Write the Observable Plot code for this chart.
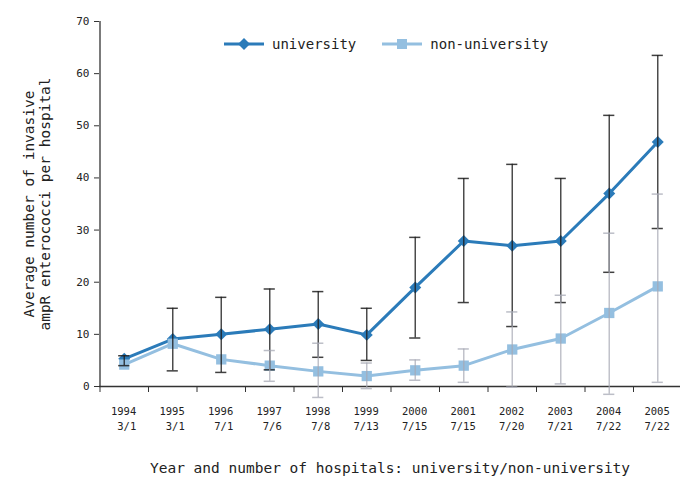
<!DOCTYPE html>
<html>
<head>
<meta charset="utf-8">
<script src="https://cdn.jsdelivr.net/npm/d3@7"></script>
<script src="https://cdn.jsdelivr.net/npm/@observablehq/plot@0.6"></script>
<style>
  body { margin: 0; background: #fff; }
  #wrap { position: relative; width: 680px; height: 478px; font-family: "DejaVu Sans Mono", monospace; color: #222; }
  #legend { position: absolute; top: 36px; left: 224px; display: flex; align-items: center; font-size: 14px; }
  .item { display: flex; align-items: center; }
  .item svg { margin-right: 7px; }
  .item + .item { margin-left: 26px; }
</style>
</head>
<body>
<div id="wrap"></div>
<script>
const years = [1994, 1995, 1996, 1997, 1998, 1999, 2000, 2001, 2002, 2003, 2004, 2005];
const hospitals = ["3/1", "3/1", "7/1", "7/6", "7/8", "7/13", "7/15", "7/15", "7/20", "7/21", "7/22", "7/22"];
const univMean = [5.3, 9.1, 10.0, 11.0, 12.0, 9.9, 19.0, 27.9, 27.0, 27.9, 37.0, 46.9];
const univLow  = [4.0, 3.0, 2.7, 3.2, 5.6, 5.0, 9.3, 16.1, 11.5, 16.1, 21.9, 30.3];
const univHigh = [5.9, 15.0, 17.1, 18.7, 18.2, 15.0, 28.6, 39.9, 42.6, 39.9, 52.0, 63.5];
const nonMean  = [4.2, 8.2, 5.2, 4.0, 2.9, 2.0, 3.1, 4.0, 7.1, 9.2, 14.1, 19.2];
const nonLow   = [null, null, null, 1.0, -2.1, -0.4, 1.2, 0.8, -0.1, 0.5, -1.5, 0.8];
const nonHigh  = [null, null, null, 6.9, 8.3, 4.5, 5.1, 7.2, 14.3, 17.5, 29.4, 36.9];
const yTicks = [0, 10, 20, 30, 40, 50, 60, 70];
const seriesNames = ["university", "non-university"];
const yTitle = "Average number of invasive\nampR enterococci per hospital";
const xTitle = "Year and number of hospitals: university/non-university";

const univColor = "#2b7bb9";
const nonColor = "#94bfe0";
const cap = 0.115;

const data = years.map((year, i) => ({
  year, hosp: hospitals[i],
  um: univMean[i], ul: univLow[i], uh: univHigh[i],
  nm: nonMean[i], nl: nonLow[i], nh: nonHigh[i]
}));
const nonBars = data.filter(d => d.nl != null);
const boundaries = years.map(y => y - 0.5);

const chart = Plot.plot({
  width: 680,
  height: 478,
  marginTop: 21,
  marginBottom: 92,
  marginLeft: 99,
  marginRight: 0,
  x: { type: "linear", domain: [1993.5, 2005.5], range: [99.5, 681.5] },
  y: { domain: [0, 70], range: [386, 21] },
  style: { fontFamily: "DejaVu Sans Mono, monospace", color: "#222", background: "transparent" },
  marks: [
    Plot.axisY({ ticks: yTicks, tickSize: 5, tickPadding: 5, fontSize: 11, label: null, stroke: "#333" }),
    Plot.axisX({ ticks: boundaries, tickSize: 6, tickFormat: () => "", label: null, stroke: "#333" }),
    Plot.axisX({
      ticks: years, tickSize: 0, tickPadding: 17, fontSize: 10.5, lineHeight: 1.5,
      textAnchor: "end", dx: 12, label: null,
      tickFormat: d => `${d}\n${hospitals[years.indexOf(d)]}`
    }),
    Plot.ruleY([0], { stroke: "#333", strokeWidth: 1.3 }),
    Plot.ruleX([1993.5], { stroke: "#333", strokeWidth: 1.3 }),
    Plot.line(data, { x: "year", y: "um", stroke: univColor, strokeWidth: 3 }),
    Plot.dot(data, { x: "year", y: "um", symbol: "diamond2", r: 5.4, fill: univColor, stroke: null }),
    Plot.line(data, { x: "year", y: "nm", stroke: nonColor, strokeWidth: 3 }),
    Plot.dot(data, { x: "year", y: "nm", symbol: "square", r: 5.8, fill: nonColor, stroke: null }),
    Plot.ruleX(data, { x: "year", y1: "ul", y2: "uh", stroke: "#1e1e1e", strokeWidth: 1.5, strokeOpacity: 0.8 }),
    Plot.ruleY(data, { y: "ul", x1: d => d.year - cap, x2: d => d.year + cap, stroke: "#1e1e1e", strokeWidth: 1.5, strokeOpacity: 0.85 }),
    Plot.ruleY(data, { y: "uh", x1: d => d.year - cap, x2: d => d.year + cap, stroke: "#1e1e1e", strokeWidth: 1.5, strokeOpacity: 0.85 }),
    Plot.ruleX(nonBars, { x: "year", y1: "nl", y2: "nh", stroke: "#a6a8b4", strokeWidth: 1.5, strokeOpacity: 0.7 }),
    Plot.ruleY(nonBars, { y: "nl", x1: d => d.year - cap, x2: d => d.year + cap, stroke: "#a6a8b4", strokeWidth: 1.5, strokeOpacity: 0.75 }),
    Plot.ruleY(nonBars, { y: "nh", x1: d => d.year - cap, x2: d => d.year + cap, stroke: "#a6a8b4", strokeWidth: 1.5, strokeOpacity: 0.75 }),
    Plot.text([yTitle], { frameAnchor: "left", textAnchor: "middle", lineAnchor: "middle", dx: -63, rotate: -90, fontSize: 14.5, lineHeight: 1.15, fill: "#222" }),
    Plot.text([xTitle], { frameAnchor: "bottom", lineAnchor: "middle", dy: 82, fontSize: 14.5, fill: "#222" })
  ]
});

const wrap = document.getElementById("wrap");
wrap.appendChild(chart);

// Legend (HTML overlay)
const legend = document.createElement("div");
legend.id = "legend";
const swatch = (color, kind) => {
  const marker = kind === "diamond"
    ? `<path d="M20,2 L26,8 L20,14 L14,8 Z" fill="${color}"/>`
    : `<rect x="15" y="3" width="10" height="10" fill="${color}"/>`;
  return `<svg width="41" height="16"><line x1="0" x2="40" y1="8" y2="8" stroke="${color}" stroke-width="3"/>${marker}</svg>`;
};
legend.innerHTML =
  `<div class="item">${swatch(univColor, "diamond")}<span>${seriesNames[0]}</span></div>` +
  `<div class="item">${swatch(nonColor, "square")}<span>${seriesNames[1]}</span></div>`;
wrap.appendChild(legend);
</script>
</body>
</html>
